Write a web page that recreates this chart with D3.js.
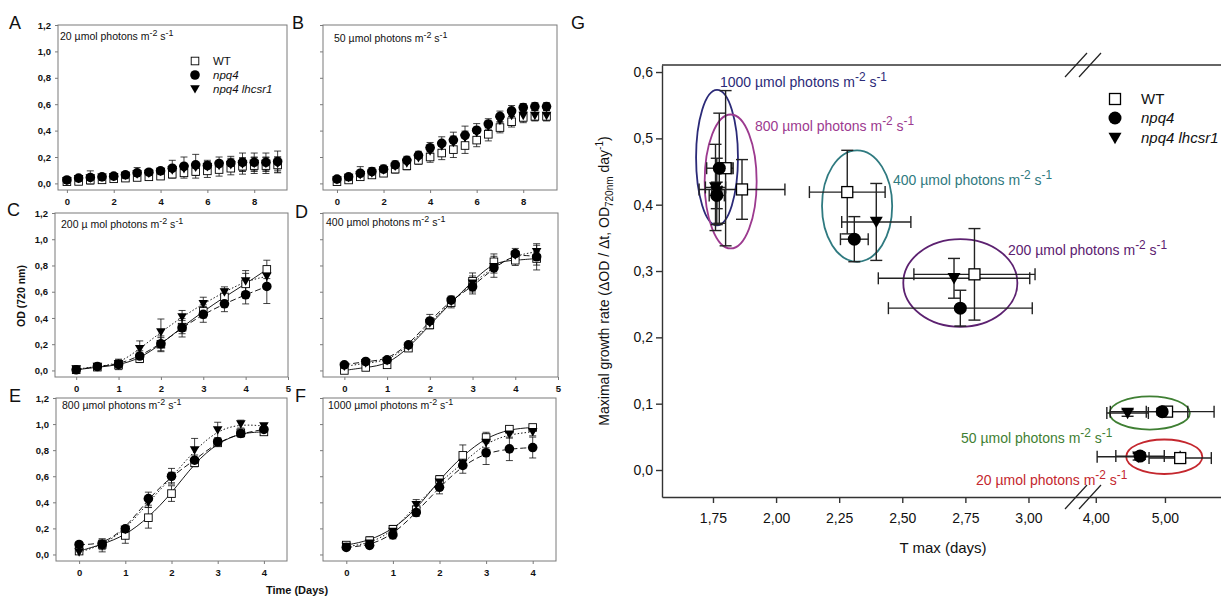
<!DOCTYPE html>
<html><head><meta charset="utf-8">
<script src="https://cdn.jsdelivr.net/npm/d3@7"></script>
<style>
body{margin:0;background:#fff;}
text{font-family:Arial,"Liberation Sans",sans-serif;}
</style></head>
<body><svg id="c" width="1221" height="596"></svg>
<script>
// ---------- DATA: panels A-F (OD 720 nm vs time, days) ----------
const timesLong = [0,0.5,1,1.5,2,2.5,3,3.5,4,4.5,5,5.5,6,6.5,7,7.5,8,8.5,9];
const times10 = [0,0.5,1,1.5,2,2.5,3,3.5,4,4.5];
const times9 = [0,0.5,1,1.5,2,2.5,3,3.5,4];
const odTicks = [0,0.2,0.4,0.6,0.8,1.0,1.2];
const xTicksLong = [0,2,4,6,8];
const xTicks5 = [0,1,2,3,4,5];
const xTicks4 = [0,1,2,3,4];
const lightLevels = ["20","50","200","400","800","1000"];

const A_wt = [0.013,0.015,0.025,0.027,0.035,0.04,0.045,0.05,0.055,0.07,0.08,0.09,0.095,0.105,0.115,0.13,0.135,0.135,0.14];
const A_npq4 = [0.026,0.04,0.045,0.05,0.055,0.065,0.08,0.085,0.095,0.115,0.13,0.14,0.135,0.15,0.155,0.16,0.16,0.16,0.165];
const A_lhcsr1 = [0.02,0.035,0.04,0.045,0.05,0.06,0.07,0.075,0.09,0.1,0.11,0.12,0.125,0.135,0.14,0.145,0.15,0.15,0.15];
const A_wtErr = [0.01,0.01,0.015,0.015,0.02,0.02,0.02,0.02,0.025,0.03,0.04,0.05,0.05,0.05,0.05,0.06,0.06,0.06,0.06];
const A_npq4Err = [0.01,0.015,0.05,0.02,0.02,0.02,0.04,0.02,0.02,0.06,0.07,0.08,0.04,0.05,0.05,0.07,0.07,0.07,0.08];
const A_lhcsr1Err = [0.01,0.01,0.02,0.02,0.02,0.02,0.02,0.02,0.02,0.03,0.03,0.04,0.04,0.04,0.05,0.05,0.05,0.05,0.05];

const B_wt = [0.013,0.026,0.05,0.064,0.077,0.108,0.133,0.175,0.2,0.23,0.256,0.287,0.328,0.372,0.423,0.467,0.5,0.508,0.508];
const B_npq4 = [0.033,0.05,0.077,0.09,0.108,0.14,0.175,0.213,0.27,0.303,0.328,0.364,0.403,0.45,0.508,0.55,0.575,0.582,0.582];
const B_lhcsr1 = [0.026,0.044,0.064,0.077,0.1,0.128,0.154,0.192,0.244,0.282,0.308,0.346,0.385,0.43,0.475,0.513,0.513,0.513,0.513];
const B_wtErr = [0.01,0.01,0.02,0.02,0.02,0.03,0.03,0.03,0.04,0.05,0.06,0.06,0.05,0.05,0.04,0.04,0.04,0.03,0.03];
const B_npq4Err = [0.01,0.01,0.05,0.03,0.03,0.03,0.03,0.03,0.04,0.05,0.06,0.07,0.05,0.04,0.04,0.04,0.03,0.03,0.03];
const B_lhcsr1Err = [0.01,0.01,0.02,0.02,0.02,0.02,0.02,0.03,0.04,0.04,0.05,0.05,0.04,0.04,0.04,0.04,0.04,0.04,0.04];

const C_wt = [0.005,0.025,0.04,0.09,0.2,0.33,0.45,0.56,0.66,0.77];
const C_npq4 = [0.005,0.03,0.046,0.11,0.203,0.325,0.427,0.508,0.577,0.64];
const C_lhcsr1 = [0.01,0.03,0.05,0.165,0.292,0.407,0.508,0.597,0.681,0.717];
const C_wtErr = [0.01,0.02,0.02,0.03,0.05,0.05,0.05,0.06,0.08,0.07];
const C_npq4Err = [0.01,0.02,0.04,0.04,0.06,0.07,0.06,0.06,0.07,0.13];
const C_lhcsr1Err = [0.01,0.02,0.03,0.06,0.1,0.05,0.05,0.04,0.08,0.07];

const D_wt = [0.0,0.023,0.043,0.17,0.347,0.517,0.68,0.828,0.84,0.853];
const D_npq4 = [0.043,0.068,0.081,0.195,0.377,0.537,0.638,0.782,0.89,0.866];
const D_lhcsr1 = [0.03,0.056,0.073,0.182,0.36,0.524,0.663,0.79,0.878,0.904];
const D_wtErr = [0.01,0.01,0.01,0.02,0.03,0.04,0.04,0.06,0.04,0.05];
const D_npq4Err = [0.01,0.01,0.01,0.02,0.05,0.03,0.04,0.04,0.04,0.1];
const D_lhcsr1Err = [0.01,0.01,0.01,0.02,0.03,0.03,0.08,0.08,0.03,0.05];

const E_wt = [0.026,0.077,0.146,0.282,0.467,0.703,0.856,0.933,0.94];
const E_npq4 = [0.077,0.077,0.197,0.428,0.6,0.723,0.864,0.928,0.959];
const E_lhcsr1 = [0.018,0.07,0.19,0.4,0.59,0.8,0.954,1.0,0.985];
const E_wtErr = [0.01,0.03,0.06,0.08,0.06,0.03,0.02,0.02,0.02];
const E_npq4Err = [0.02,0.04,0.02,0.05,0.06,0.04,0.03,0.03,0.02];
const E_lhcsr1Err = [0.01,0.05,0.02,0.04,0.04,0.09,0.06,0.03,0.02];

const F_wt = [0.072,0.106,0.193,0.343,0.575,0.76,0.897,0.961,0.974];
const F_npq4 = [0.054,0.07,0.15,0.322,0.515,0.683,0.78,0.81,0.82];
const F_lhcsr1 = [0.06,0.085,0.175,0.381,0.554,0.699,0.858,0.922,0.94];
const F_wtErr = [0.01,0.03,0.03,0.03,0.03,0.08,0.04,0.02,0.02];
const F_npq4Err = [0.01,0.01,0.03,0.03,0.05,0.06,0.09,0.09,0.08];
const F_lhcsr1Err = [0.01,0.02,0.04,0.04,0.05,0.04,0.04,0.03,0.03];

// ---------- DATA: panel G (Tmax vs maximal growth rate) ----------
const G_levels = ["1000","800","400","200","50","20"];
const G_colors = ["#2b2a78","#9c3a8f","#2f7a80","#5c2170","#3f7f33","#c4272e"];
const G_wtX = [1.80,1.865,2.282,2.786,5.03,5.22];
const G_wtY = [0.455,0.423,0.419,0.295,0.088,0.018];
const G_wtXErr = [0.03,0.17,0.15,0.24,0.3,0.45];
const G_wtYErr = [0.117,0.045,0.063,0.069,0.006,0.006];
const G_npq4X = [1.775,1.765,2.31,2.73,4.96,4.64];
const G_npq4Y = [0.455,0.414,0.348,0.244,0.088,0.021];
const G_npq4XErr = [0.05,0.03,0.055,0.285,0.75,0.35];
const G_npq4YErr = [0.083,0.02,0.034,0.027,0.005,0.005];
const G_lhX = [1.765,1.76,2.397,2.705,4.46,4.62];
const G_lhY = [0.42,0.426,0.374,0.289,0.086,0.02];
const G_lhXErr = [0.02,0.04,0.137,0.3,0.3,0.6];
const G_lhYErr = [0.05,0.065,0.058,0.03,0.005,0.005];
const G_ellCx = [1.766,1.82,2.321,2.73,4.78,4.99];
const G_ellCy = [0.471,0.435,0.398,0.282,0.086,0.02];
const G_ellRx = [0.083,0.103,0.139,0.226,0.58,0.55];
const G_ellRy = [0.102,0.101,0.084,0.066,0.025,0.026];
const G_xTicks = [1.75,2.0,2.25,2.5,2.75,3.0,4.0,5.0];
const G_yTicks = [0,0.1,0.2,0.3,0.4,0.5,0.6];
const seriesNames = ["WT","npq4","npq4 lhcsr1"];

// ---------- DRAWING ----------
const svg = d3.select("#c");
const FONT = 'Arial,"Liberation Sans",sans-serif';
const comma1 = v => d3.format(".1f")(v).replace(".", ",");
const comma2 = v => d3.format(".2f")(v).replace(".", ",");

function photonText(parent, x, y, num, size, color, muSpace) {
  const t = parent.append("text").attr("x", x).attr("y", y).attr("font-size", size).attr("fill", color);
  const sup = size * 0.42;
  t.append("tspan").text(num + (muSpace ? " \u00b5 mol photons m" : " \u00b5mol photons m"));
  t.append("tspan").attr("dy", -sup).attr("font-size", size * 0.85).text("-2");
  t.append("tspan").attr("dy", sup).text(" s");
  t.append("tspan").attr("dy", -sup).attr("font-size", size * 0.85).text("-1");
  return t;
}
function triPath(cx, cy, s) {
  return `M${cx - s},${cy - s * 0.8}L${cx + s},${cy - s * 0.8}L${cx},${cy + s * 0.95}Z`;
}
function drawMarkers(g, type, xs, ys, s, sw) {
  if (type === "wt") {
    g.selectAll(null).data(xs).join("rect")
      .attr("x", (d, i) => xs[i] - s).attr("y", (d, i) => ys[i] - s)
      .attr("width", 2 * s).attr("height", 2 * s)
      .attr("fill", "#fff").attr("stroke", "#000").attr("stroke-width", sw);
  } else if (type === "npq4") {
    g.selectAll(null).data(xs).join("circle")
      .attr("cx", (d, i) => xs[i]).attr("cy", (d, i) => ys[i]).attr("r", s).attr("fill", "#000");
  } else {
    g.selectAll(null).data(xs).join("path")
      .attr("d", (d, i) => triPath(xs[i], ys[i], s)).attr("fill", "#000");
  }
}

const panels = [
  {L:"A", lx:9, ly:29, x0:58, x1:287, y0:25, y1:190, xd:[-0.38,9.4], xt:xTicksLong, t:timesLong,
   wt:A_wt, np:A_npq4, lh:A_lhcsr1, wtE:A_wtErr, npE:A_npq4Err, lhE:A_lhcsr1Err, ylab:true, lines:false, lvl:lightLevels[0], tx:60, ty:40, mu:false},
  {L:"B", lx:292, ly:29, x0:323, x1:557, y0:25, y1:190, xd:[-0.6,9.45], xt:xTicksLong, t:timesLong,
   wt:B_wt, np:B_npq4, lh:B_lhcsr1, wtE:B_wtErr, npE:B_npq4Err, lhE:B_lhcsr1Err, ylab:false, lines:false, lvl:lightLevels[1], tx:334, ty:42, mu:false},
  {L:"C", lx:7, ly:216, x0:55, x1:288, y0:213, y1:377, xd:[-0.5,5], xt:xTicks5, t:times10,
   wt:C_wt, np:C_npq4, lh:C_lhcsr1, wtE:C_wtErr, npE:C_npq4Err, lhE:C_lhcsr1Err, ylab:true, lines:true, lvl:lightLevels[2], tx:61, ty:228, mu:true},
  {L:"D", lx:295, ly:218, x0:323, x1:558, y0:213, y1:377, xd:[-0.5,5], xt:xTicks5, t:times10,
   wt:D_wt, np:D_npq4, lh:D_lhcsr1, wtE:D_wtErr, npE:D_npq4Err, lhE:D_lhcsr1Err, ylab:false, lines:true, lvl:lightLevels[3], tx:326, ty:226, mu:false},
  {L:"E", lx:9, ly:402, x0:56, x1:287, y0:398, y1:561, xd:[-0.5,4.5], xt:xTicks4, t:times9,
   wt:E_wt, np:E_npq4, lh:E_lhcsr1, wtE:E_wtErr, npE:E_npq4Err, lhE:E_lhcsr1Err, ylab:true, lines:true, lvl:lightLevels[4], tx:62, ty:409, mu:false},
  {L:"F", lx:295, ly:402, x0:323, x1:556, y0:398, y1:561, xd:[-0.5,4.5], xt:xTicks4, t:times9,
   wt:F_wt, np:F_npq4, lh:F_lhcsr1, wtE:F_wtErr, npE:F_npq4Err, lhE:F_lhcsr1Err, ylab:false, lines:true, lvl:lightLevels[5], tx:328, ty:409, mu:false}
];

panels.forEach(p => {
  const x = d3.scaleLinear().domain(p.xd).range([p.x0, p.x1]);
  const y = d3.scaleLinear().domain([-0.05, 1.2]).range([p.y1, p.y0]);
  const g = svg.append("g");

  g.append("g").attr("transform", `translate(0,${p.y1})`)
    .call(d3.axisBottom(x).tickValues(p.xt).tickSize(3).tickSizeOuter(0).tickPadding(5).tickFormat(d3.format("d")))
    .call(a => {
      a.select(".domain").remove();
      a.selectAll("line").attr("stroke", "#7a7a7a");
      a.selectAll("text").attr("font-size", 9.5).attr("font-weight", "bold").attr("font-family", FONT).attr("fill", "#111");
    });
  g.append("g").attr("transform", `translate(${p.x0},0)`)
    .call(d3.axisLeft(y).tickValues(odTicks).tickSize(3).tickSizeOuter(0).tickPadding(4).tickFormat(p.ylab ? comma1 : () => ""))
    .call(a => {
      a.select(".domain").remove();
      a.selectAll("line").attr("stroke", "#7a7a7a");
      a.selectAll("text").attr("font-size", 9.5).attr("font-weight", "bold").attr("font-family", FONT).attr("fill", "#111");
    });
  g.append("rect").attr("x", p.x0).attr("y", p.y0).attr("width", p.x1 - p.x0).attr("height", p.y1 - p.y0)
    .attr("fill", "none").attr("stroke", "#7a7a7a").attr("stroke-width", 1);

  const series = [
    {type:"wt", v:p.wt, e:p.wtE, dash:null},
    {type:"lh", v:p.lh, e:p.lhE, dash:"1.5,2"},
    {type:"npq4", v:p.np, e:p.npE, dash:"6,3"}
  ];
  if (p.lines) {
    series.forEach(s => {
      const line = d3.line().x((d, i) => x(p.t[i])).y(d => y(d)).curve(d3.curveBasis);
      g.append("path").attr("d", line(s.v)).attr("fill", "none").attr("stroke", "#000")
        .attr("stroke-width", 0.9).attr("stroke-dasharray", s.dash);
    });
  }
  series.forEach(s => {
    const eg = g.append("g").attr("stroke", "#111").attr("stroke-width", 0.8);
    s.v.forEach((v, i) => {
      const cx = x(p.t[i]), ya = y(v - s.e[i]), yb = y(v + s.e[i]);
      eg.append("line").attr("x1", cx).attr("x2", cx).attr("y1", ya).attr("y2", yb);
      eg.append("line").attr("x1", cx - 3.5).attr("x2", cx + 3.5).attr("y1", ya).attr("y2", ya);
      eg.append("line").attr("x1", cx - 3.5).attr("x2", cx + 3.5).attr("y1", yb).attr("y2", yb);
    });
  });
  series.forEach(s => {
    const xs = p.t.map(t => x(t)), ys = s.v.map(v => y(v));
    drawMarkers(g, s.type, xs, ys, s.type === "wt" ? 3.8 : 4.8, 0.9);
  });

  photonText(g, p.tx, p.ty, p.lvl, 10.5, "#111", p.mu);
  svg.append("text").attr("x", p.lx).attr("y", p.ly).attr("font-size", 18).attr("fill", "#111").text(p.L);
});

// legend A
{
  const lg = svg.append("g");
  const types = ["wt","npq4","lh"];
  const ly = [61, 75, 89];
  types.forEach((t, i) => drawMarkers(lg, t, [195], [ly[i]], t === "wt" ? 3.8 : 4.8, 0.9));
  seriesNames.forEach((n, i) => lg.append("text").attr("x", 213).attr("y", ly[i] + 4).attr("font-size", 11.5)
    .attr("font-style", i === 0 ? "normal" : "italic").attr("fill", "#111").text(n));
}
// shared labels
svg.append("text").attr("transform", "translate(25,296) rotate(-90)").attr("text-anchor", "middle")
  .attr("font-size", 10.5).attr("font-weight", "bold").attr("fill", "#111").text("OD (720 nm)");
svg.append("text").attr("x", 297).attr("y", 594).attr("text-anchor", "middle")
  .attr("font-size", 11).attr("font-weight", "bold").attr("fill", "#111").text("Time (Days)");

// ---------- Panel G ----------
const gx = d3.scaleLinear().domain([1.548, 3.22, 3.83, 5.81]).range([662, 1084, 1084, 1221]);
const gy = d3.scaleLinear().domain([-0.0407, 0.6106]).range([497, 65]);
const G = svg.append("g");
const axCol = "#333";
G.append("g").attr("transform", "translate(0,497)")
  .call(d3.axisBottom(gx).tickValues(G_xTicks).tickSize(6).tickSizeOuter(0).tickPadding(10).tickFormat(comma2))
  .call(a => {
    a.select(".domain").attr("stroke", axCol).attr("stroke-width", 1.4);
    a.selectAll("line").attr("stroke", axCol).attr("stroke-width", 1.4);
    a.selectAll("text").attr("font-size", 14).attr("font-family", FONT).attr("fill", "#111");
  });
G.append("g").attr("transform", "translate(662,0)")
  .call(d3.axisLeft(gy).tickValues(G_yTicks).tickSize(6).tickSizeOuter(0).tickPadding(3).tickFormat(comma1))
  .call(a => {
    a.select(".domain").attr("stroke", axCol).attr("stroke-width", 1.4);
    a.selectAll("line").attr("stroke", axCol).attr("stroke-width", 1.4);
    a.selectAll("text").attr("font-size", 14).attr("font-family", FONT).attr("fill", "#111");
  });
G.append("line").attr("x1", 662).attr("x2", 1221).attr("y1", 65).attr("y2", 65).attr("stroke", axCol).attr("stroke-width", 1.4);
// axis breaks
[65, 497].forEach(yy => {
  const bx = gx(3.22);
  [-8, 6].forEach(dx => {
    G.append("line").attr("x1", bx + dx - 11).attr("y1", yy + 12).attr("x2", bx + dx + 11).attr("y2", yy - 12)
      .attr("stroke", "#222").attr("stroke-width", 1.2);
  });
});

// ellipses
G_levels.forEach((lv, i) => {
  const cx = gx(G_ellCx[i]), cy = gy(G_ellCy[i]);
  G.append("ellipse").attr("cx", cx).attr("cy", cy)
    .attr("rx", gx(G_ellCx[i] + G_ellRx[i]) - cx).attr("ry", cy - gy(G_ellCy[i] + G_ellRy[i]))
    .attr("fill", "none").attr("stroke", G_colors[i]).attr("stroke-width", 1.8);
});
// error bars
const gSeries = [
  {type:"wt", X:G_wtX, Y:G_wtY, XE:G_wtXErr, YE:G_wtYErr},
  {type:"lh", X:G_lhX, Y:G_lhY, XE:G_lhXErr, YE:G_lhYErr},
  {type:"npq4", X:G_npq4X, Y:G_npq4Y, XE:G_npq4XErr, YE:G_npq4YErr}
];
gSeries.forEach(s => {
  const eg = G.append("g").attr("stroke", "#222").attr("stroke-width", 1.4);
  s.X.forEach((xv, i) => {
    const cx = gx(xv), cy = gy(s.Y[i]);
    const xa = gx(xv - s.XE[i]), xb = gx(xv + s.XE[i]);
    const ya = gy(s.Y[i] - s.YE[i]), yb = gy(s.Y[i] + s.YE[i]);
    eg.append("line").attr("x1", xa).attr("x2", xb).attr("y1", cy).attr("y2", cy);
    eg.append("line").attr("x1", xa).attr("x2", xa).attr("y1", cy - 6).attr("y2", cy + 6);
    eg.append("line").attr("x1", xb).attr("x2", xb).attr("y1", cy - 6).attr("y2", cy + 6);
    eg.append("line").attr("x1", cx).attr("x2", cx).attr("y1", ya).attr("y2", yb);
    eg.append("line").attr("x1", cx - 6).attr("x2", cx + 6).attr("y1", ya).attr("y2", ya);
    eg.append("line").attr("x1", cx - 6).attr("x2", cx + 6).attr("y1", yb).attr("y2", yb);
  });
});
gSeries.forEach(s => {
  drawMarkers(G, s.type, s.X.map(v => gx(v)), s.Y.map(v => gy(v)), s.type === "wt" ? 5.5 : 6.5, 1.3);
});
// condition labels
const G_labelPos = [[720,87],[755,131],[893,185],[1008,255],[961,443],[976,485]];
G_levels.forEach((lv, i) => photonText(G, G_labelPos[i][0], G_labelPos[i][1], lv, 14, G_colors[i], false));

// legend G
{
  const ly = [99, 118, 138];
  ["wt","npq4","lh"].forEach((t, i) => drawMarkers(G, t, [1115], [ly[i]], t === "wt" ? 5.5 : 6.5, 1.3));
  seriesNames.forEach((n, i) => G.append("text").attr("x", 1141).attr("y", ly[i] + 5).attr("font-size", 15)
    .attr("font-style", i === 0 ? "normal" : "italic").attr("fill", "#111").text(n));
}
// axis titles G
svg.append("text").attr("x", 943).attr("y", 553).attr("text-anchor", "middle").attr("font-size", 15).attr("fill", "#111").text("T max (days)");
{
  const t = svg.append("text").attr("transform", "translate(609,281) rotate(-90)").attr("text-anchor", "middle")
    .attr("font-size", 14).attr("fill", "#111");
  t.append("tspan").text("Maximal growth rate (\u0394OD / \u0394t, OD");
  t.append("tspan").attr("dy", 4).attr("font-size", 10).text("720nm");
  t.append("tspan").attr("dy", -4).text(" day");
  t.append("tspan").attr("dy", -6).attr("font-size", 10).text("-1");
  t.append("tspan").attr("dy", 6).text(")");
}
svg.append("text").attr("x", 571).attr("y", 29).attr("font-size", 18).attr("fill", "#111").text("G");
</script></body></html>
